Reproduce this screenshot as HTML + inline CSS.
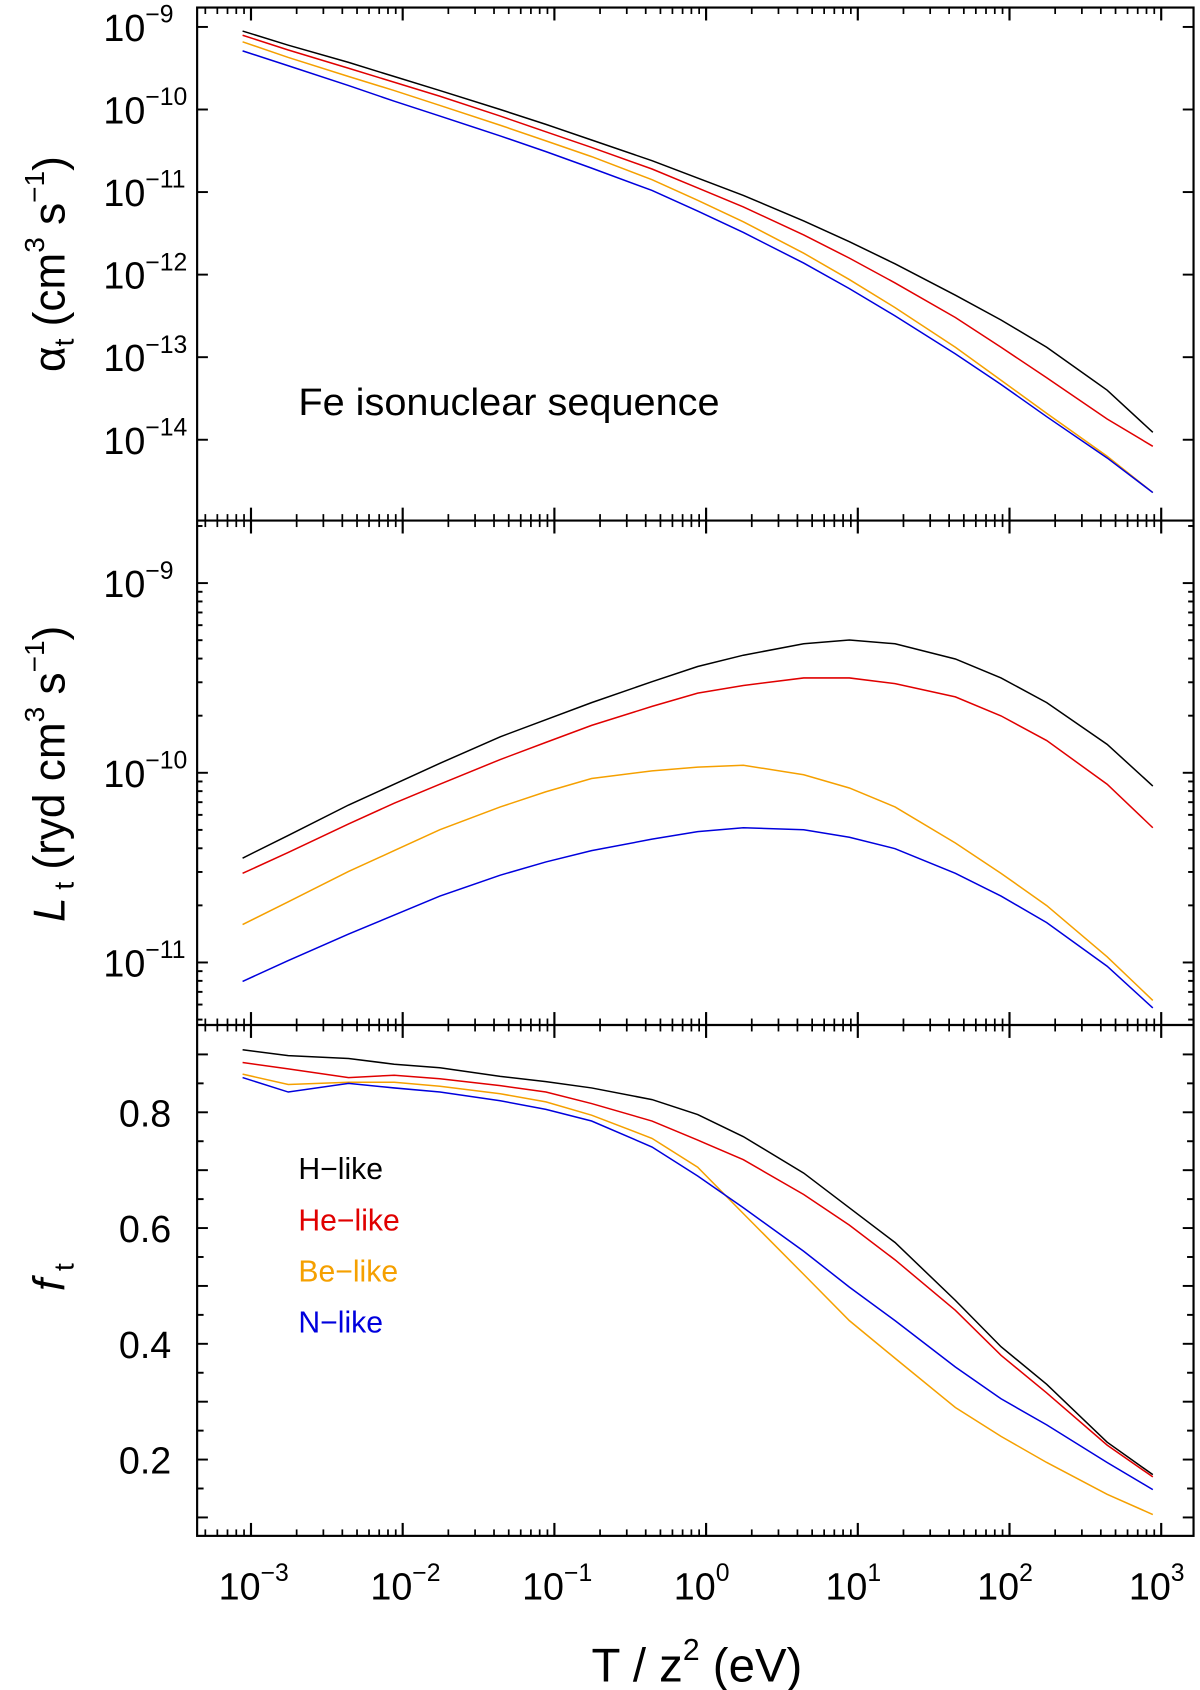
<!DOCTYPE html>
<html><head><meta charset="utf-8"><style>
html,body{margin:0;padding:0;background:#fff}
svg{display:block}
text{font-family:"Liberation Sans",Arial,sans-serif}
</style></head><body>
<svg id="chart" width="1200" height="1690" viewBox="0 0 1114 1568" preserveAspectRatio="none" xmlns="http://www.w3.org/2000/svg"></svg>
<script>
const xValues=[0.00088,0.00176,0.0044,0.0088,0.0176,0.044,0.088,0.176,0.44,0.88,1.76,4.4,8.8,17.6,44,88,176,440,880];
const seriesNames=["H-like","He-like","Be-like","N-like"];
const seriesColors=["#000000","#e00000","#f5a000","#0000dd"];
// panel 1: log10 alpha_t
const alphaH=[-9.05,-9.22,-9.43,-9.60,-9.77,-10.00,-10.18,-10.37,-10.62,-10.83,-11.04,-11.35,-11.60,-11.87,-12.25,-12.55,-12.88,-13.40,-13.91];
const alphaHe=[-9.10,-9.28,-9.50,-9.67,-9.84,-10.08,-10.27,-10.46,-10.72,-10.95,-11.18,-11.52,-11.80,-12.10,-12.52,-12.88,-13.25,-13.75,-14.08];
const alphaBe=[-9.18,-9.37,-9.60,-9.77,-9.95,-10.19,-10.38,-10.57,-10.85,-11.10,-11.36,-11.74,-12.06,-12.40,-12.88,-13.28,-13.68,-14.20,-14.64];
const alphaN=[-9.29,-9.47,-9.71,-9.90,-10.08,-10.32,-10.51,-10.71,-10.98,-11.23,-11.49,-11.86,-12.17,-12.50,-12.96,-13.33,-13.72,-14.22,-14.64];
// panel 2: log10 L_t
const lossH=[-10.45,-10.33,-10.17,-10.06,-9.95,-9.81,-9.72,-9.63,-9.52,-9.44,-9.38,-9.32,-9.30,-9.32,-9.40,-9.50,-9.63,-9.85,-10.07];
const lossHe=[-10.53,-10.42,-10.27,-10.16,-10.06,-9.93,-9.84,-9.75,-9.65,-9.58,-9.54,-9.50,-9.50,-9.53,-9.60,-9.70,-9.83,-10.06,-10.29];
const lossBe=[-10.80,-10.68,-10.52,-10.41,-10.30,-10.18,-10.10,-10.03,-9.99,-9.97,-9.96,-10.01,-10.08,-10.18,-10.37,-10.53,-10.70,-10.97,-11.20];
const lossN=[-11.10,-10.99,-10.85,-10.75,-10.65,-10.54,-10.47,-10.41,-10.35,-10.31,-10.29,-10.30,-10.34,-10.40,-10.53,-10.65,-10.79,-11.02,-11.24];
// panel 3: f_t
const fracH=[0.908,0.898,0.893,0.883,0.877,0.862,0.853,0.842,0.822,0.796,0.758,0.695,0.635,0.575,0.475,0.395,0.33,0.23,0.174];
const fracHe=[0.886,0.875,0.86,0.864,0.858,0.846,0.835,0.815,0.785,0.752,0.718,0.658,0.605,0.545,0.458,0.38,0.315,0.225,0.17];
const fracBe=[0.866,0.848,0.852,0.852,0.845,0.832,0.818,0.795,0.755,0.705,0.625,0.52,0.44,0.375,0.29,0.24,0.195,0.14,0.105];
const fracN=[0.860,0.835,0.85,0.842,0.835,0.82,0.805,0.785,0.74,0.69,0.635,0.56,0.498,0.44,0.36,0.305,0.26,0.195,0.148];
const xTickExps=[-3,-2,-1,0,1,2,3];
const alphaTickExps=[-9,-10,-11,-12,-13,-14];
const lossTickExps=[-9,-10,-11];
const fracTickLabels=[0.2,0.4,0.6,0.8];

const NS="http://www.w3.org/2000/svg";
const svg=document.getElementById('chart');
const L=183,R=1108;
function xs(v){return 233+(Math.log10(v)+3)*140.83;}
function mk(tag,attrs,parent){const e=document.createElementNS(NS,tag);for(const k in attrs)e.setAttribute(k,attrs[k]);(parent||svg).appendChild(e);return e;}
function y1(lg){return 25+(-9-lg)*76.6;}
function y2(lg){return 541+(-9-lg)*176;}
function y3(f){return 1032-(f-0.8)*537;}

const hb=[7,483,951,1425];
hb.forEach((yy,i)=>{
  for(let d=-4;d<=3;d++){for(let m=1;m<10;m++){const v=m*Math.pow(10,d);const x=xs(v);if(x<L+1||x>R-1)continue;
    const len=m===1?12:6;
    let y0=yy,y1_=yy;
    if(i>0)y0=yy-len; if(i<3)y1_=yy+len;
    const t=mk('line',{x1:x,x2:x,y1:y0,y2:y1_,stroke:'#000','stroke-width':m===1?2:1.6});
    
    
  }}
});
const fr=mk('rect',{x:L,y:7,width:R-L,height:1418,fill:'none',stroke:'#000','stroke-width':2});

[483,951].forEach(yy=>{const l=mk('line',{x1:L,x2:R,y1:yy,y2:yy,stroke:'#000','stroke-width':2});
});

function ytick(y,len){[L,R].forEach((x,j)=>{const t=mk('line',{x1:x,x2:j?x-len:x+len,y1:y,y2:y,stroke:'#000','stroke-width':1.8});
});}
function powLabel(x,y,e,name){const t=mk('text',{x:x,y:y,'font-size':35,'text-anchor':'start'});

t.appendChild(document.createTextNode('10'));const s=mk('tspan',{dy:-17,'font-size':23},t);s.textContent=(e<0?'\u2212':'')+Math.abs(e);return t;}

alphaTickExps.forEach(e=>{const y=y1(e);ytick(y,10);powLabel(96,y+13,e,'alpha-tick-label');});
for(let d=-12;d<=-8;d++){for(let m=1;m<10;m++){const lg=d+Math.log10(m);const y=y2(lg);if(y<=485||y>=949)continue;ytick(y,m===1?10:5);}}
lossTickExps.forEach(e=>{const y=y2(e);powLabel(96,y+13,e,'loss-tick-label');});
for(let k=2;k<=18;k++){const f=k*0.05;const y=y3(f);if(y<=953||y>=1423)continue;ytick(y,k%2===0?10:6);}
fracTickLabels.forEach(f=>{const t=mk('text',{x:159,y:y3(f)+13,'font-size':35,'text-anchor':'end'});t.textContent=f.toFixed(1);
});
xTickExps.forEach(e=>{const x=xs(Math.pow(10,e));const t=mk('text',{x:x-30,y:1484,'font-size':35});

t.appendChild(document.createTextNode('10'));const s=mk('tspan',{dy:-17,'font-size':23},t);s.textContent=(e<0?'\u2212':'')+Math.abs(e);});

function series(arr,ymap,color,name){const pts=arr.map((v,i)=>xs(xValues[i]).toFixed(1)+','+ymap(v).toFixed(1)).join(' ');
const p=mk('polyline',{points:pts,fill:'none',stroke:color,'stroke-width':1.4});
}
[alphaH,alphaHe,alphaBe,alphaN].forEach((a,i)=>series(a,y1,seriesColors[i],'alpha-line-'+seriesNames[i].toLowerCase()));
[lossH,lossHe,lossBe,lossN].forEach((a,i)=>series(a,y2,seriesColors[i],'loss-line-'+seriesNames[i].toLowerCase()));
[fracH,fracHe,fracBe,fracN].forEach((a,i)=>series(a,y3,seriesColors[i],'frac-line-'+seriesNames[i].toLowerCase()));

const an=mk('text',{x:277,y:385,'font-size':35,textLength:391,lengthAdjust:'spacingAndGlyphs'});an.textContent='Fe isonuclear sequence';

seriesNames.forEach((n,i)=>{const t=mk('text',{x:277,y:1094+i*47.5,'font-size':28,fill:seriesColors[i]});t.textContent=n.replace('-','\u2212');
});

function ytitle(cx,cy,parts,name){const t=mk('text',{x:0,y:0,'font-size':41,'text-anchor':'middle',transform:`translate(${cx},${cy}) rotate(-90)`});

parts.forEach(p=>{const s=mk('tspan',p.a||{},t);s.textContent=p.t;});}
ytitle(60,245,[{t:'\u03b1'},{t:'t',a:{'font-size':26,dy:8}},{t:' (cm',a:{dy:-8}},{t:'3',a:{'font-size':26,dy:-19}},{t:' s',a:{dy:19}},{t:'\u22121',a:{'font-size':26,dy:-19}},{t:')',a:{dy:19}}],'alpha-axis-title');
ytitle(60,718,[{t:'L','a':{'font-style':'italic'}},{t:' t',a:{'font-size':26,dy:8}},{t:' (ryd cm',a:{dy:-8}},{t:'3',a:{'font-size':26,dy:-19}},{t:' s',a:{dy:19}},{t:'\u22121',a:{'font-size':26,dy:-19}},{t:')',a:{dy:19}}],'loss-axis-title');
ytitle(60,1185,[{t:'f',a:{'font-style':'italic'}},{t:' t',a:{'font-size':26,dy:8}}],'frac-axis-title');
const xt=mk('text',{x:647,y:1560,'font-size':44,'text-anchor':'middle'});

xt.appendChild(document.createTextNode('T / z'));const sp=mk('tspan',{dy:-20,'font-size':28},xt);sp.textContent='2';
const sp2=mk('tspan',{dy:20},xt);sp2.textContent=' (eV)';
</script>
</body></html>
